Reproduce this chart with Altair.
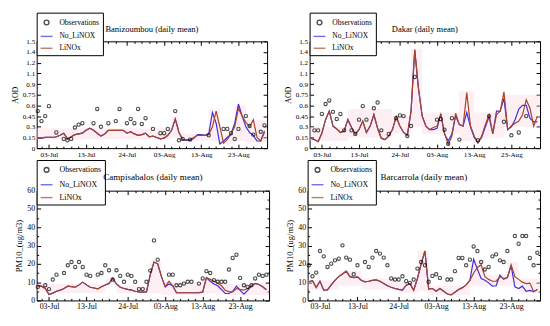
import altair as alt
import pandas as pd

SERIES = ["Observations", "No_LiNOX", "LiNOx"]
COLORS = ["#000000", "#3b2fe0", "#a8442a"]
CIRCLE = "M-0.4,0A0.4,0.4 0 1,1 0.4,0A0.4,0.4 0 1,1 -0.4,0Z"
DASH = "M-1,0H1"
SHAPES = [CIRCLE, DASH, DASH]
SERIF = "Liberation Serif"
PINK = "#fbd0e0"
BASE = pd.Timestamp("2015-06-30")
DAYS = list(range(62))

MAJOR_TICKS = ["2015-07-03", "2015-07-13", "2015-07-24", "2015-08-03", "2015-08-13", "2015-08-23"]
MINOR_TICKS = ["2015-07-01", "2015-07-05", "2015-07-07", "2015-07-09", "2015-07-11",
               "2015-07-15", "2015-07-17", "2015-07-19", "2015-07-21", "2015-07-26",
               "2015-07-28", "2015-07-30", "2015-08-01", "2015-08-05", "2015-08-07",
               "2015-08-09", "2015-08-11", "2015-08-15", "2015-08-17", "2015-08-19",
               "2015-08-21", "2015-08-25", "2015-08-27", "2015-08-29"]

AOD_TICKS = [0, 0.15, 0.3, 0.45, 0.6, 0.75, 0.9, 1.05, 1.2, 1.35, 1.5]
PM_TICKS = [0, 10, 20, 30, 40, 50, 60]
PM_MINOR = [5, 15, 25, 35, 45, 55]

# ---------------- Banizoumbou (AOD) ----------------
bani_obs_day = [0, 1, 2, 3, 5, 7, 8, 9, 10, 11, 12, 15, 16, 17, 19, 21, 22, 24, 25, 26, 27, 28, 29,
                31, 33, 34, 35, 37, 38, 39, 41, 46, 50, 51, 52, 53, 54, 56, 57, 58, 60, 61]
bani_obs_val = [0.52, 0.38, 0.45, 0.59, 0.22, 0.13, 0.11, 0.13, 0.29, 0.33, 0.35, 0.35, 0.55, 0.30,
                0.35, 0.38, 0.55, 0.35, 0.41, 0.35, 0.55, 0.34, 0.42, 0.27, 0.21, 0.21, 0.27, 0.52,
                0.11, 0.13, 0.12, 0.18, 0.27, 0.27, 0.21, 0.13, 0.27, 0.45, 0.31, 0.19, 0.23, 0.32]
bani_linox = [0.14, 0.14, 0.15, 0.15, 0.15, 0.16, 0.18, 0.21, 0.13, 0.16,
              0.19, 0.20, 0.21, 0.25, 0.28, 0.25, 0.21, 0.17, 0.20, 0.25,
              0.25, 0.25, 0.25, 0.25, 0.21, 0.23, 0.20, 0.18, 0.19, 0.21,
              0.16, 0.17, 0.15, 0.13, 0.14, 0.18, 0.25, 0.41, 0.22, 0.12,
              0.12, 0.12, 0.15, 0.18, 0.18, 0.18, 0.19, 0.30, 0.52, 0.30,
              0.07, 0.12, 0.20, 0.30, 0.56, 0.45, 0.36, 0.30, 0.40, 0.15,
              0.10, 0.22]
bani_nolinox = [0.14, 0.14, 0.15, 0.15, 0.15, 0.16, 0.18, 0.21, 0.13, 0.16,
                0.19, 0.20, 0.21, 0.25, 0.28, 0.25, 0.21, 0.17, 0.20, 0.25,
                0.25, 0.25, 0.25, 0.25, 0.21, 0.23, 0.20, 0.18, 0.19, 0.21,
                0.16, 0.17, 0.15, 0.13, 0.14, 0.18, 0.25, 0.41, 0.22, 0.12,
                0.11, 0.11, 0.14, 0.19, 0.19, 0.18, 0.20, 0.50, 0.35, 0.06,
                0.10, 0.15, 0.20, 0.35, 0.62, 0.45, 0.30, 0.22, 0.18, 0.10,
                0.10, 0.24]
bani_band_start = [-0.3, 36, 38, 46, 49, 53, 56]
bani_band_end = [36, 38, 46, 49, 53, 56, 61.7]
bani_band_low = [0.12, 0.15, 0.10, 0.10, 0.05, 0.10, 0.08]
bani_band_high = [0.28, 0.45, 0.20, 0.55, 0.20, 0.60, 0.40]

# ---------------- Dakar (AOD) ----------------
dakar_obs_day = [1, 2, 3, 4, 5, 6, 7, 8, 9, 11, 12, 13, 14, 15, 17, 18, 19, 21, 23, 24, 25, 26, 27,
                 28, 34, 35, 36, 37, 38, 40, 45, 48, 52, 54, 56, 58]
dakar_obs_val = [0.25, 0.25, 0.48, 0.62, 0.67, 0.51, 0.41, 0.48, 0.25, 0.25, 0.20, 0.40, 0.59, 0.40,
                 0.56, 0.64, 0.25, 0.20, 0.42, 0.46, 0.45, 0.17, 0.31, 1.00, 0.40, 0.41, 0.26, 0.06,
                 0.42, 0.12, 0.11, 0.45, 0.37, 0.18, 0.22, 0.45]
dakar_linox = [0.14, 0.12, 0.09, 0.21, 0.40, 0.52, 0.31, 0.27, 0.22, 0.24,
               0.40, 0.29, 0.20, 0.26, 0.38, 0.22, 0.31, 0.47, 0.28, 0.14,
               0.12, 0.17, 0.26, 0.44, 0.31, 0.22, 0.18, 0.52, 1.38, 0.84,
               0.45, 0.31, 0.26, 0.29, 0.31, 0.47, 0.21, 0.05, 0.17, 0.49,
               0.33, 0.31, 0.78, 0.31, 0.17, 0.07, 0.17, 0.33, 0.47, 0.21,
               0.47, 0.52, 0.79, 0.26, 0.31, 0.35, 0.38, 0.47, 0.68, 0.56,
               0.31, 0.45]
dakar_nolinox = [0.14, 0.12, 0.09, 0.21, 0.40, 0.52, 0.31, 0.27, 0.22, 0.24,
                 0.40, 0.29, 0.20, 0.26, 0.38, 0.22, 0.31, 0.47, 0.28, 0.14,
                 0.12, 0.17, 0.26, 0.44, 0.31, 0.22, 0.18, 0.52, 1.38, 0.84,
                 0.45, 0.31, 0.26, 0.26, 0.28, 0.48, 0.20, 0.10, 0.20, 0.45,
                 0.33, 0.31, 0.50, 0.30, 0.15, 0.08, 0.15, 0.30, 0.44, 0.20,
                 0.52, 0.52, 0.70, 0.26, 0.30, 0.40, 0.55, 0.60, 0.60, 0.42,
                 0.37, 0.37]
dakar_band_start = [-0.3, 10, 22, 27, 30, 40, 44, 52]
dakar_band_end = [10, 22, 27, 30, 40, 44, 52, 61.7]
dakar_band_low = [0.10, 0.15, 0.20, 0.30, 0.20, 0.10, 0.15, 0.30]
dakar_band_high = [0.30, 0.55, 0.45, 1.40, 0.50, 0.80, 0.50, 0.75]

# ---------------- Campisabalos (PM10) ----------------
campi_obs_day = [0, 2, 3, 4, 5, 7, 8, 9, 10, 11, 12, 13, 14, 16, 17, 18, 19, 20, 21, 22, 23, 24, 25,
                 26, 27, 28, 29, 30, 31, 32, 35, 36, 37, 38, 39, 40, 41, 43, 44, 45, 46, 47, 48, 49,
                 50, 51, 52, 53, 54, 55, 56, 57, 58, 59, 60, 61]
campi_obs_val = [7.4, 8.3, 6.2, 11.4, 14.1, 15.0, 19.2, 21.0, 18.3, 21.0, 18.3, 14.1, 13.4, 14.1,
                 15.0, 19.2, 16.5, 11.4, 16.5, 13.4, 10.2, 14.1, 13.4, 10.2, 6.2, 6.2, 10.2, 16.3,
                 32.8, 22.3, 14.1, 14.1, 8.3, 8.3, 9.2, 10.2, 10.2, 9.2, 12.0, 16.0, 15.0, 11.1,
                 10.2, 10.2, 10.2, 16.9, 23.2, 25.0, 12.3, 8.3, 7.4, 8.3, 12.0, 14.1, 13.4, 14.1]
campi_linox = [8.0, 7.8, 6.5, 3.2, 4.0, 5.0, 5.6, 6.5, 7.8, 7.5,
               7.2, 8.5, 10.0, 8.5, 7.2, 6.8, 6.3, 7.5, 8.4, 9.3,
               12.0, 9.0, 7.2, 6.5, 6.0, 5.6, 5.0, 4.7, 4.5, 4.7,
               14.0, 21.0, 20.0, 13.0, 7.5, 10.5, 8.0, 4.2, 4.2, 4.2,
               4.2, 4.2, 4.2, 4.3, 4.5, 12.5, 11.5, 10.5, 9.5, 8.0,
               5.6, 4.8, 4.7, 6.5, 6.0, 5.6, 6.5, 8.0, 9.3, 8.7,
               7.5, 5.8]
campi_nolinox = [8.0, 7.8, 6.5, 3.2, 4.0, 5.0, 5.6, 6.5, 7.8, 7.5,
                 7.2, 8.5, 10.0, 8.5, 7.2, 6.8, 6.3, 7.5, 8.4, 9.3,
                 12.0, 9.0, 7.2, 6.5, 6.0, 5.6, 5.0, 4.7, 4.5, 4.7,
                 14.0, 21.0, 20.0, 13.0, 7.5, 9.0, 8.0, 4.2, 4.2, 4.2,
                 4.2, 4.2, 4.2, 4.3, 4.5, 12.5, 10.5, 9.0, 8.0, 6.0,
                 3.8, 3.8, 5.0, 7.8, 5.5, 3.4, 5.5, 8.0, 9.3, 8.7,
                 7.5, 5.8]
campi_band_start = [-0.3, 3, 18, 21, 30, 33, 44, 50]
campi_band_end = [3, 18, 21, 30, 33, 44, 50, 61.7]
campi_band_low = [5, 4, 8, 4, 4, 3, 4, 3]
campi_band_high = [9, 9, 12, 8, 21, 10, 12, 9]

# ---------------- Barcarrola (PM10) ----------------
barca_obs_day = [0, 1, 2, 3, 4, 5, 6, 7, 8, 9, 10, 11, 12, 13, 15, 16, 17, 18, 19, 20, 21, 22, 23,
                 24, 25, 26, 27, 28, 29, 30, 31, 32, 33, 34, 35, 37, 38, 39, 40, 41, 42, 43, 44, 45,
                 46, 47, 48, 49, 50, 51, 52, 53, 55, 56, 57, 58, 59, 60, 61]
barca_obs_val = [19.2, 13.2, 15.2, 27.0, 24.1, 18.3, 20.1, 21.9, 22.8, 30.1, 23.4, 22.3, 14.3, 19.2,
                 21.0, 18.3, 23.4, 27.0, 25.6, 23.4, 19.2, 12.0, 11.4, 11.4, 13.2, 10.5, 9.6, 11.4,
                 17.4, 21.0, 19.2, 10.2, 13.4, 14.3, 12.3, 11.4, 11.4, 16.0, 23.2, 23.2, 19.2, 22.3,
                 29.5, 27.0, 21.0, 16.9, 18.3, 24.1, 25.2, 21.9, 21.0, 27.0, 35.2, 31.0, 35.2, 35.2,
                 23.2, 19.2, 26.1]
barca_linox = [10.2, 10.8, 7.0, 10.5, 5.6, 5.8, 8.5, 11.0, 13.0, 14.5,
               16.0, 13.0, 12.5, 12.9, 11.0, 10.2, 10.5, 11.0, 11.2, 10.5,
               9.2, 8.0, 7.2, 6.5, 6.0, 5.6, 8.3, 9.2, 5.6, 12.0,
               20.0, 27.0, 6.2, 6.5, 5.0, 6.5, 5.0, 3.5, 3.0, 4.5,
               6.0, 7.0, 8.5, 11.0, 15.0, 18.0, 19.5, 13.0, 11.5, 10.5,
               10.5, 12.9, 12.0, 12.5, 19.5, 13.0, 11.5, 10.0, 9.2, 9.5,
               4.8, 6.0]
barca_nolinox = [10.2, 10.8, 7.0, 10.5, 5.6, 5.8, 8.5, 11.0, 13.0, 14.5,
                 16.0, 13.0, 12.5, 12.9, 11.0, 10.2, 10.5, 11.0, 11.2, 10.5,
                 9.2, 8.0, 7.2, 6.5, 6.0, 5.6, 8.3, 9.2, 5.6, 12.0,
                 20.0, 27.0, 6.2, 6.5, 5.0, 6.5, 5.0, 3.5, 3.0, 4.5,
                 6.0, 7.0, 8.5, 11.0, 22.5, 17.0, 12.0, 11.0, 9.6, 7.8,
                 8.0, 13.8, 11.5, 12.5, 19.0, 7.4, 6.5, 7.8, 5.0, 5.5,
                 4.8, 6.0]
barca_band_start = [-0.3, 8, 14, 24, 29, 32, 43, 47, 53, 56]
barca_band_end = [8, 14, 24, 29, 32, 43, 47, 53, 56, 61.7]
barca_band_low = [6, 8, 6, 4, 5, 3, 8, 8, 8, 4]
barca_band_high = [11, 16, 12, 10, 27, 8, 22, 14, 21, 12]


def to_time(days):
    return [BASE + pd.to_timedelta(d, unit="D") for d in days]


def dt(s):
    y, m, d = map(int, s.split("-"))
    return alt.DateTime(year=y, month=m, date=d)


def dth(y, m, d, h):
    return alt.DateTime(year=y, month=m, date=d, hours=h)


X_SCALE = alt.Scale(domain=[dth(2015, 6, 29, 17), dth(2015, 8, 30, 17)])


def xaxis(orient, values, size, labels, fs):
    return alt.Axis(orient=orient, values=[dt(v) for v in values], tickSize=size, offset=-size,
                    domain=False, grid=False, labels=labels, title=None, format="%d-%b",
                    labelFont=SERIF, labelFontSize=fs, labelColor="black", tickColor="black",
                    labelPadding=2, labelFlush=False, labelOverlap=False)


def yaxis(orient, values, size, labels, fs, title=None, tfs=8):
    kw = dict(orient=orient, values=values, tickSize=size, offset=-size, domain=False, grid=False,
              labels=labels, format="~r", labelFont=SERIF, labelFontSize=fs, labelColor="black",
              tickColor="black", labelPadding=2, labelFlush=False, labelOverlap=False)
    if title:
        kw.update(title=title, titleFont=SERIF, titleFontSize=tfs, titleFontWeight="normal",
                  titleColor="black", titlePadding=3)
    else:
        kw.update(title=None)
    return alt.Axis(**kw)


def panel(name, obs_day, obs_val, nolinox, linox, b_s, b_e, b_lo, b_hi, ymax, yticks, yminor,
          ytitle, w, h, fs, tfs, lfs, legend_y, row_pad, title_dy):
    y_scale = alt.Scale(domain=[0, ymax], nice=False, zero=True)
    legend = alt.Legend(orient="none", legendX=0, legendY=legend_y, title=None,
                        strokeColor="black", fillColor="white", padding=3,
                        labelFont=SERIF, labelFontSize=lfs, labelColor="black",
                        symbolSize=144, symbolStrokeWidth=1.4, labelOffset=6,
                        rowPadding=row_pad, symbolFillColor="transparent")
    c_scale = alt.Scale(domain=SERIES, range=COLORS)
    s_scale = alt.Scale(domain=SERIES, range=SHAPES)

    band_df = pd.DataFrame({"start": to_time(b_s), "end": to_time(b_e), "low": b_lo, "high": b_hi})
    blue_df = pd.DataFrame({"date": to_time(DAYS), "value": nolinox, "series": "No_LiNOX"})
    brown_df = pd.DataFrame({"date": to_time(DAYS), "value": linox, "series": "LiNOx"})
    obs_df = pd.DataFrame({"date": to_time(obs_day), "value": obs_val, "series": "Observations"})

    band = alt.Chart(band_df).mark_rect(color=PINK, opacity=0.35).encode(
        x=alt.X("start:T", scale=X_SCALE, axis=xaxis("bottom", MAJOR_TICKS, 4, True, fs)),
        x2="end:T",
        y=alt.Y("low:Q", scale=y_scale, axis=yaxis("left", yticks, 4, True, fs, ytitle, tfs)),
        y2="high:Q",
    )
    blue = alt.Chart(blue_df).mark_line(strokeWidth=1.2).encode(
        x=alt.X("date:T", scale=X_SCALE, axis=xaxis("bottom", MINOR_TICKS, 2, False, fs)),
        y=alt.Y("value:Q", scale=y_scale,
                axis=yaxis("left", yminor, 2, False, fs) if yminor else None),
        color=alt.Color("series:N", scale=c_scale, legend=legend),
    )
    brown = alt.Chart(brown_df).mark_line(strokeWidth=1.2).encode(
        x=alt.X("date:T", scale=X_SCALE, axis=xaxis("top", MAJOR_TICKS, 4, False, fs)),
        y=alt.Y("value:Q", scale=y_scale, axis=yaxis("right", yticks, 4, False, fs)),
        color=alt.Color("series:N", scale=c_scale, legend=legend),
    )
    pts = alt.Chart(obs_df).mark_point(filled=False, size=70, strokeWidth=1.1).encode(
        x=alt.X("date:T", scale=X_SCALE, axis=xaxis("top", MINOR_TICKS, 2, False, fs)),
        y=alt.Y("value:Q", scale=y_scale,
                axis=yaxis("right", yminor, 2, False, fs) if yminor else None),
        color=alt.Color("series:N", scale=c_scale, legend=legend),
        shape=alt.Shape("series:N", scale=s_scale, legend=legend),
    )
    title = alt.TitleParams(text=name, anchor="middle", frame="group", dy=title_dy,
                            fontSize=tfs + 0.6, font=SERIF, fontWeight="normal", color="black",
                            offset=0)
    return (alt.layer(band, blue, brown, pts)
            .resolve_axis(x="independent", y="independent")
            .properties(width=w, height=h, title=title))


p1 = panel("Banizoumbou (daily mean)", bani_obs_day, bani_obs_val, bani_nolinox, bani_linox,
           bani_band_start, bani_band_end, bani_band_low, bani_band_high,
           1.5, AOD_TICKS, None, "AOD", 233, 108, 7.2, 8, 7.6, -29, 1, 22)
p2 = panel("Dakar (daily mean)", dakar_obs_day, dakar_obs_val, dakar_nolinox, dakar_linox,
           dakar_band_start, dakar_band_end, dakar_band_low, dakar_band_high,
           1.5, AOD_TICKS, None, "AOD", 233, 108, 7.2, 8, 7.6, -29, 1, 22)
p3 = panel("Campisabalos (daily mean)", campi_obs_day, campi_obs_val, campi_nolinox, campi_linox,
           campi_band_start, campi_band_end, campi_band_low, campi_band_high,
           60, PM_TICKS, PM_MINOR, "PM10_(ug/m3)", 235, 111, 8, 8.6, 8, -31, 2, 23)
p4 = panel("Barcarrola (daily mean)", barca_obs_day, barca_obs_val, barca_nolinox, barca_linox,
           barca_band_start, barca_band_end, barca_band_low, barca_band_high,
           60, PM_TICKS, PM_MINOR, "PM10_(ug/m3)", 235, 111, 8, 8.6, 8, -31, 2, 23)

top = alt.hconcat(p1, p2, spacing=14).resolve_scale(color="independent", shape="independent")
bottom = alt.hconcat(p3, p4, spacing=14).resolve_scale(color="independent", shape="independent")

chart = (alt.vconcat(top, bottom, spacing=1)
         .resolve_scale(color="independent", shape="independent")
         .properties(padding={"left": 2, "top": 2, "right": 0, "bottom": 0}, background="white")
         .configure_view(stroke="black", strokeWidth=1)
         .configure_title(font=SERIF))

chart.save("out.html", embed_options={"renderer": "svg", "actions": False})
